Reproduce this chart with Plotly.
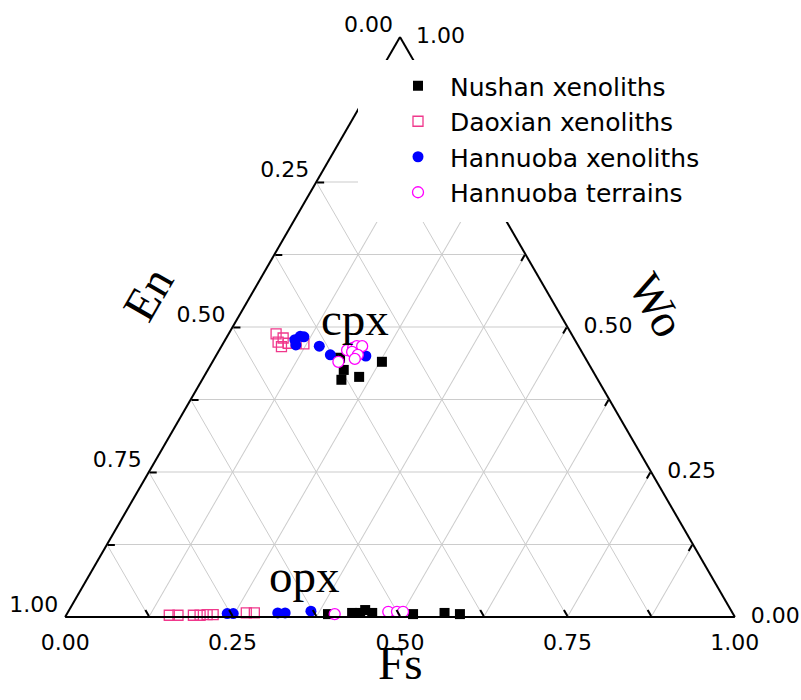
import plotly.graph_objects as go

# ---- data: Wo (top apex), En (bottom-left), Fs (bottom-right) ----
nushan_wo = [0.447, 0.426, 0.409, 0.414, 0.440, 0.005, 0.007, 0.007, 0.012, 0.007, 0.005, 0.007, 0.005]
nushan_en = [0.366, 0.371, 0.383, 0.354, 0.307, 0.605, 0.568, 0.556, 0.546, 0.538, 0.478, 0.430, 0.408]
nushan_fs = [0.187, 0.203, 0.208, 0.232, 0.253, 0.390, 0.425, 0.437, 0.442, 0.455, 0.517, 0.563, 0.587]

daoxian_wo = [0.488, 0.481, 0.474, 0.466, 0.472, 0.472, 0.471, 0.003, 0.003, 0.003, 0.003, 0.004, 0.004, 0.007, 0.007]
daoxian_en = [0.441, 0.434, 0.445, 0.444, 0.431, 0.419, 0.408, 0.843, 0.830, 0.807, 0.797, 0.786, 0.777, 0.726, 0.714]
daoxian_fs = [0.071, 0.085, 0.081, 0.090, 0.097, 0.109, 0.121, 0.154, 0.167, 0.190, 0.200, 0.210, 0.219, 0.267, 0.279]

hanx_wo = [0.478, 0.484, 0.483, 0.469, 0.467, 0.452, 0.450, 0.006, 0.006, 0.007, 0.007, 0.010]
hanx_en = [0.418, 0.407, 0.402, 0.421, 0.387, 0.378, 0.326, 0.755, 0.746, 0.679, 0.668, 0.628]
hanx_fs = [0.104, 0.109, 0.115, 0.110, 0.146, 0.170, 0.224, 0.239, 0.248, 0.314, 0.325, 0.362]

hant_wo = [0.460, 0.464, 0.467, 0.467, 0.457, 0.452, 0.445, 0.440, 0.005, 0.009, 0.009, 0.009]
hant_en = [0.349, 0.338, 0.331, 0.323, 0.343, 0.337, 0.345, 0.372, 0.595, 0.513, 0.500, 0.491]
hant_fs = [0.191, 0.198, 0.202, 0.210, 0.200, 0.211, 0.210, 0.188, 0.400, 0.478, 0.491, 0.500]

grid_vals = [0, 0.125, 0.25, 0.375, 0.5, 0.625, 0.75, 0.875, 1.0]
label_vals = [0.0, 0.25, 0.5, 0.75, 1.0]
label_text = ["0.00", "0.25", "0.50", "0.75", "1.00"]

# the page's body margin is removed (see post_script), so screen px == figure px
W, H = 801, 700


def px(x):
    return x / W


def py(y):
    return 1 - y / H


fig = go.Figure()

fig.add_trace(go.Scatterternary(
    a=nushan_wo, b=nushan_en, c=nushan_fs, mode="markers", name="Nushan xenoliths",
    cliponaxis=False,
    marker=dict(symbol="square", size=10, color="black", line=dict(width=0))))
fig.add_trace(go.Scatterternary(
    a=daoxian_wo, b=daoxian_en, c=daoxian_fs, mode="markers", name="Daoxian xenoliths",
    cliponaxis=False,
    marker=dict(symbol="square-open", size=10, color="#f0388c", line=dict(width=1.3))))
fig.add_trace(go.Scatterternary(
    a=hanx_wo, b=hanx_en, c=hanx_fs, mode="markers", name="Hannuoba xenoliths",
    cliponaxis=False,
    marker=dict(symbol="circle", size=11, color="#0000ff", line=dict(width=0))))
fig.add_trace(go.Scatterternary(
    a=hant_wo, b=hant_en, c=hant_fs, mode="markers", name="Hannuoba terrains",
    cliponaxis=False,
    marker=dict(symbol="circle", size=11, color="white", line=dict(width=1.3, color="#ff00ff"))))

tick_font = dict(family="DejaVu Sans", size=22, color="black")
# En scale along the left edge
fig.add_trace(go.Scatterternary(
    a=[1 - v for v in label_vals], b=label_vals, c=[0] * len(label_vals),
    mode="text", text=[t + "\u00a0" for t in label_text], textposition="top left",
    textfont=tick_font, cliponaxis=False, showlegend=False, hoverinfo="skip"))
# Fs scale along the bottom edge
fig.add_trace(go.Scatterternary(
    a=[0] * len(label_vals), b=[1 - v for v in label_vals], c=label_vals,
    mode="markers+text", text=label_text, textposition="bottom center",
    marker=dict(size=25, color="rgba(0,0,0,0)"),
    textfont=tick_font, cliponaxis=False, showlegend=False, hoverinfo="skip"))
# Wo scale along the right edge
fig.add_trace(go.Scatterternary(
    a=label_vals, b=[0] * len(label_vals), c=[1 - v for v in label_vals],
    mode="markers+text", text=label_text, textposition="middle right",
    marker=dict(size=24, color="rgba(0,0,0,0)"),
    textfont=tick_font, cliponaxis=False, showlegend=False, hoverinfo="skip"))

axis_common = dict(
    title=dict(text=""),
    tickmode="array", tickvals=grid_vals, showticklabels=False,
    ticks="inside", ticklen=7, tickwidth=2, tickcolor="black",
    showgrid=True, gridcolor="#cccccc", gridwidth=1,
    showline=True, linecolor="black", linewidth=2,
    min=0,
)

serif = dict(family="Liberation Serif", size=47, color="black")

fig.update_layout(
    width=W, height=H,
    margin=dict(l=0, r=0, t=0, b=0, autoexpand=False),
    paper_bgcolor="white",
    ternary=dict(
        sum=1,
        bgcolor="white",
        domain=dict(x=[px(65), px(735)], y=[py(617), py(37)]),
        aaxis=axis_common, baxis=axis_common, caxis=axis_common,
    ),
    showlegend=True,
    legend=dict(
        x=px(386), y=py(63), xanchor="left", yanchor="top",
        bgcolor="rgba(0,0,0,0)", borderwidth=0,
        font=dict(family="DejaVu Sans", size=25, color="black"),
        itemwidth=54,
    ),
    shapes=[dict(type="rect", xref="paper", yref="paper", layer="above",
                 x0=px(358), x1=px(725), y0=py(222), y1=py(60),
                 fillcolor="white", line=dict(width=0))],
    annotations=[
        dict(text="En", x=px(148), y=py(294), xref="paper", yref="paper", showarrow=False,
             xanchor="center", yanchor="middle", textangle=-60, font=serif),
        dict(text="Wo", x=px(657), y=py(305), xref="paper", yref="paper", showarrow=False,
             xanchor="center", yanchor="middle", textangle=60, font=serif),
        dict(text="Fs", x=px(400), y=py(663), xref="paper", yref="paper", showarrow=False,
             xanchor="center", yanchor="middle", font=serif),
        dict(text="cpx", x=px(355), y=py(319), xref="paper", yref="paper", showarrow=False,
             xanchor="center", yanchor="middle", font=serif),
        dict(text="opx", x=px(304), y=py(576), xref="paper", yref="paper", showarrow=False,
             xanchor="center", yanchor="middle", font=serif),
    ],
)

fig.write_html("out.html", config={"displayModeBar": False},
               post_script="document.body.style.margin='0';")
